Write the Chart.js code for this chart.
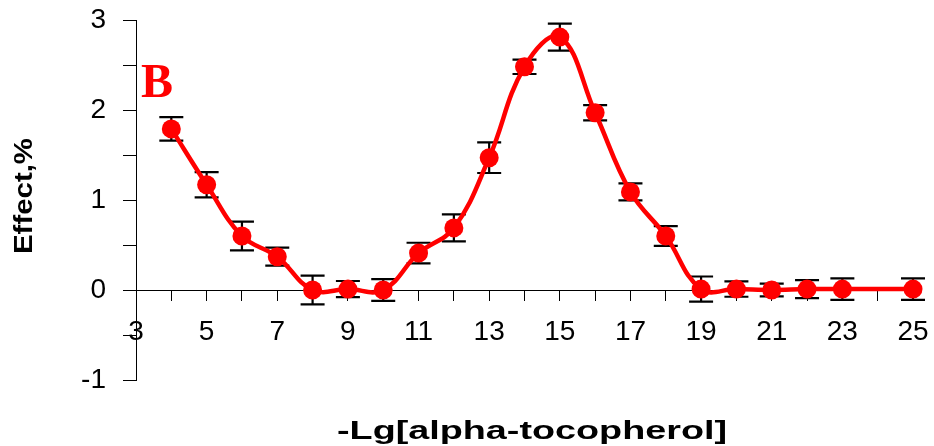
<!DOCTYPE html>
<html lang="en">
<head>
  <meta charset="UTF-8">
  <title>Effect vs -Lg[alpha-tocopherol]</title>
  <script src="https://cdn.jsdelivr.net/npm/chart.js"></script>
  <style>
    html, body { margin: 0; padding: 0; background: #fff; }
    .chart-box { width: 934px; height: 446px; }
  </style>
</head>
<body>
  <div class="chart-box">
    <canvas id="effectChart" width="934" height="446"></canvas>
  </div>

  <script>
    // data
    const xValues = [4, 5, 6, 7, 8, 9, 10, 11, 12, 13, 14, 15, 16, 17, 18, 19, 20, 21, 22, 23, 25];
    const effect = [1.79, 1.17, 0.60, 0.37, 0.00, 0.01, 0.00, 0.41, 0.69, 1.47, 2.48, 2.81, 1.97, 1.09, 0.60, 0.01, 0.01, 0.00, 0.01, 0.01, 0.01];
    const errors = [0.13, 0.14, 0.16, 0.10, 0.16, 0.09, 0.12, 0.115, 0.15, 0.17, 0.08, 0.15, 0.085, 0.095, 0.11, 0.14, 0.085, 0.07, 0.10, 0.12, 0.12];
    const xTickLabels = [3, 5, 7, 9, 11, 13, 15, 17, 19, 21, 23, 25];
    const yTickLabels = [-1, 0, 1, 2, 3];

    const xTitle = '-Lg[alpha-tocopherol]';
    const yTitle = 'Effect,%';
    const panelLabel = 'B';

    const sans = '"Liberation Sans", Arial, sans-serif';

    const points = xValues.map((x, i) => ({ x: x, y: effect[i] }));

    // error bars behind the markers
    const errorBars = {
      id: 'errorBars',
      beforeDatasetsDraw(chart) {
        const { ctx, scales: { x, y } } = chart;
        ctx.save();
        ctx.strokeStyle = '#000';
        ctx.lineWidth = 2.2;
        xValues.forEach((v, i) => {
          const px = x.getPixelForValue(v);
          const top = y.getPixelForValue(effect[i] + errors[i]);
          const bot = y.getPixelForValue(effect[i] - errors[i]);
          ctx.beginPath();
          ctx.moveTo(px, top); ctx.lineTo(px, bot);
          ctx.moveTo(px - 12, top); ctx.lineTo(px + 12, top);
          ctx.moveTo(px - 12, bot); ctx.lineTo(px + 12, bot);
          ctx.stroke();
        });
        ctx.restore();
      }
    };

    function stretchedText(ctx, text, cx, cy, font, width, angle) {
      ctx.save();
      ctx.font = font;
      const w = ctx.measureText(text).width;
      ctx.translate(cx, cy);
      ctx.rotate(angle);
      ctx.scale(width / w, 1);
      ctx.textAlign = 'center';
      ctx.textBaseline = 'middle';
      ctx.fillText(text, 0, 0);
      ctx.restore();
    }

    const labels = {
      id: 'labels',
      afterDraw(chart) {
        const ctx = chart.ctx;
        ctx.fillStyle = '#000';
        stretchedText(ctx, xTitle, 532, 432, 'bold 26px ' + sans, 390, 0);
        stretchedText(ctx, yTitle, 25, 196, 'bold 25px ' + sans, 116, -Math.PI / 2);
        ctx.save();
        ctx.fillStyle = '#ff0000';
        ctx.font = 'bold 48px "Liberation Serif", "Times New Roman", serif';
        ctx.textAlign = 'left';
        ctx.textBaseline = 'alphabetic';
        ctx.fillText(panelLabel, 141, 97);
        ctx.restore();
      }
    };

    const ctx = document.getElementById('effectChart').getContext('2d');
    new Chart(ctx, {
      type: 'line',
      data: {
        datasets: [{
          data: points,
          borderColor: '#ff0000',
          backgroundColor: '#ff0000',
          borderWidth: 4.5,
          tension: 0.4,
          pointRadius: 9.5,
          pointHoverRadius: 9.5,
          pointBorderWidth: 0,
          clip: false
        }]
      },
      options: {
        responsive: false,
        animation: false,
        events: [],
        layout: { padding: { top: 20, right: 21, bottom: 66, left: 0 } },
        plugins: {
          legend: { display: false },
          tooltip: { enabled: false }
        },
        scales: {
          x: {
            type: 'linear',
            position: { y: 0 },
            min: 3,
            max: 25,
            afterFit: s => { s.paddingLeft = 0; s.paddingRight = 0; },
            border: { color: '#000', width: 1 },
            grid: { drawOnChartArea: false, tickLength: 10, color: '#000' },
            ticks: {
              stepSize: 1,
              autoSkip: false,
              maxRotation: 0,
              padding: 15,
              color: '#000',
              font: { family: sans, size: 28 },
              callback: v => xTickLabels.includes(v) ? String(v) : ''
            }
          },
          y: {
            min: -1,
            max: 3,
            afterFit: s => { s.width = 136; s.paddingTop = 0; s.paddingBottom = 0; },
            border: { color: '#000', width: 1 },
            grid: { drawOnChartArea: false, tickLength: 13, color: '#000' },
            ticks: {
              stepSize: 0.5,
              autoSkip: false,
              padding: 17,
              color: '#000',
              font: { family: sans, size: 28 },
              callback: v => yTickLabels.includes(v) ? String(v) : ''
            }
          }
        }
      },
      plugins: [errorBars, labels]
    });
  </script>
</body>
</html>
